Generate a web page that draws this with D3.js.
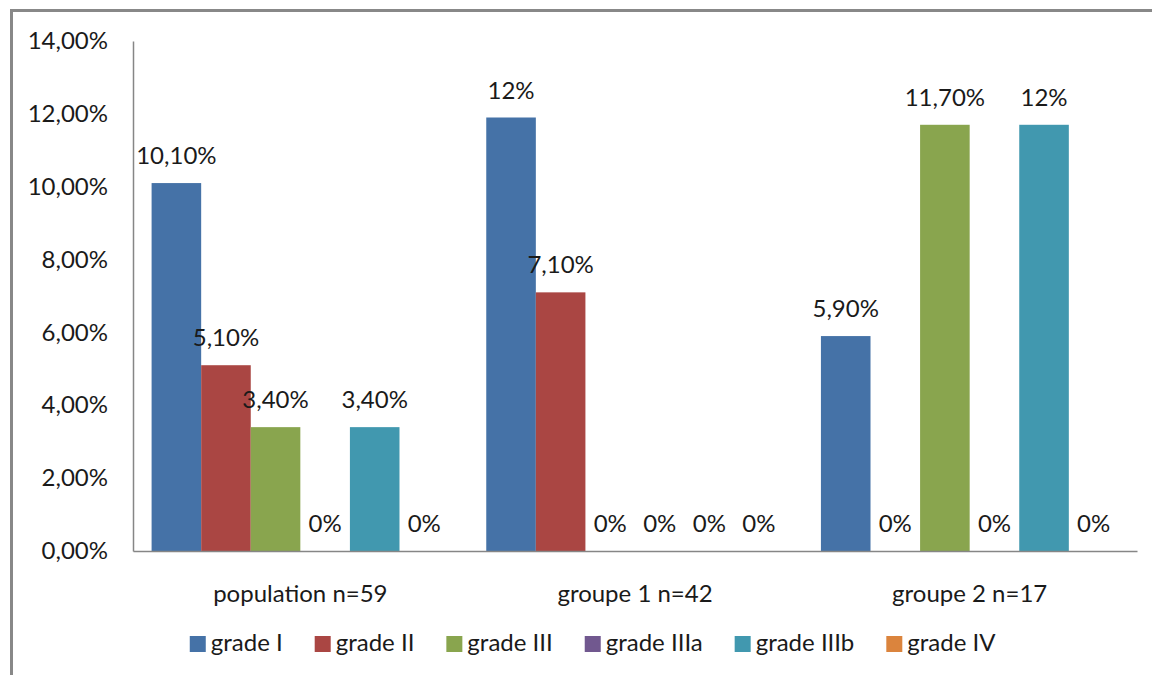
<!DOCTYPE html>
<html>
<head>
<meta charset="utf-8">
<script src="https://cdn.jsdelivr.net/npm/d3@7"></script>
<style>
  html, body { margin: 0; padding: 0; background: #fff; }
  svg { display: block; }
  text { font-family: Lato, "Open Sans", sans-serif; fill: #1a1a1a; }
</style>
</head>
<body>
<div id="chart"></div>
<script>
'use strict';

// catégories et séries (valeurs en %)
const categories = ["population n=59", "groupe 1 n=42", "groupe 2 n=17"];
const seriesNames = ["grade I", "grade II", "grade III", "grade IIIa", "grade IIIb", "grade IV"];
const seriesColors = ["#4572A7", "#AA4643", "#89A54E", "#71588F", "#4198AF", "#DB843D"];

const gradeI    = [10.1, 11.9, 5.9];
const gradeII   = [5.1, 7.1, 0];
const gradeIII  = [3.4, 0, 11.7];
const gradeIIIa = [0, 0, 0];
const gradeIIIb = [3.4, 0, 11.7];
const gradeIV   = [0, 0, 0];

// étiquettes de données telles qu'affichées
const labelsI    = ["10,10%", "12%", "5,90%"];
const labelsII   = ["5,10%", "7,10%", "0%"];
const labelsIII  = ["3,40%", "0%", "11,70%"];
const labelsIIIa = ["0%", "0%", "0%"];
const labelsIIIb = ["3,40%", "0%", "12%"];
const labelsIV   = ["0%", "0%", "0%"];

const yTicks = [0, 2, 4, 6, 8, 10, 12, 14];

const values = [gradeI, gradeII, gradeIII, gradeIIIa, gradeIIIb, gradeIV];
const labels = [labelsI, labelsII, labelsIII, labelsIIIa, labelsIIIb, labelsIV];

const W = 1152, H = 675;
const plot = {left: 133, right: 1137, top: 41, bottom: 551};
const fontSize = 24;

const svg = d3.select("#chart").append("svg")
    .attr("width", W)
    .attr("height", H);

// cadre extérieur du graphique
svg.append("rect")
    .attr("x", 11.5).attr("y", 10.5)
    .attr("width", W + 20).attr("height", H + 20)
    .attr("fill", "none")
    .attr("stroke", "#888")
    .attr("stroke-width", 3);

const x0 = d3.scaleBand()
    .domain(categories)
    .range([plot.left, plot.right])
    .paddingInner(0)
    .paddingOuter(0);

// gap width ~75% d'une barre
const x1 = d3.scaleBand()
    .domain(seriesNames)
    .range([0, x0.bandwidth()])
    .paddingOuter(0.375)
    .paddingInner(0);

const y = d3.scaleLinear()
    .domain([0, 14])
    .range([plot.bottom, plot.top]);

// barres
const groups = svg.append("g").selectAll("g")
    .data(seriesNames)
    .join("g")
    .attr("fill", (d, i) => seriesColors[i]);

groups.selectAll("rect")
    .data((s, i) => categories.map((c, j) => ({cat: c, s: s, v: values[i][j], label: labels[i][j]})))
    .join("rect")
    .attr("x", d => x0(d.cat) + x1(d.s))
    .attr("width", x1.bandwidth())
    .attr("y", d => y(d.v))
    .attr("height", d => y(0) - y(d.v));

// étiquettes de données
groups.selectAll("text")
    .data((s, i) => categories.map((c, j) => ({cat: c, s: s, v: values[i][j], label: labels[i][j]})))
    .join("text")
    .attr("x", d => x0(d.cat) + x1(d.s) + x1.bandwidth() / 2)
    .attr("y", d => y(d.v) - 19)
    .attr("text-anchor", "middle")
    .style("font-size", fontSize + "px")
    .style("fill", "#1a1a1a")
    .text(d => d.label);

// axe Y
const yAxis = svg.append("g")
    .attr("transform", `translate(${plot.left},0)`)
    .call(d3.axisLeft(y)
        .tickValues(yTicks)
        .tickSize(0)
        .tickPadding(25)
        .tickFormat(d => d3.format(".2f")(d).replace(".", ",") + "%"));
yAxis.select(".domain").attr("stroke", "#868686").attr("stroke-width", 1.5);
yAxis.selectAll("text")
    .style("font-size", fontSize + "px")
    .style("font-family", "Lato, sans-serif")
    .attr("fill", "#1a1a1a");

// axe X
const xAxis = svg.append("g")
    .attr("transform", `translate(0,${plot.bottom})`)
    .call(d3.axisBottom(x0).tickSize(0).tickPadding(34));
xAxis.select(".domain").attr("stroke", "#868686").attr("stroke-width", 1.5);
xAxis.selectAll("text")
    .style("font-size", fontSize + "px")
    .style("font-family", "Lato, sans-serif")
    .attr("fill", "#1a1a1a");

// légende
const legend = svg.append("g");
const items = legend.selectAll("g")
    .data(seriesNames)
    .join("g");
items.append("rect")
    .attr("width", 16).attr("height", 16)
    .attr("y", -16)
    .attr("fill", (d, i) => seriesColors[i]);
items.append("text")
    .attr("x", 21)
    .attr("y", -1)
    .style("font-size", fontSize + "px")
    .text(d => d);

let cursor = 0;
const gap = 32;
items.each(function() {
    const w = this.getBBox().width;
    d3.select(this).attr("transform", `translate(${cursor},0)`);
    cursor += w + gap;
});
const totalW = cursor - gap;
const legendX = (plot.left + plot.right) / 2 - totalW / 2 - 42;
legend.attr("transform", `translate(${legendX},652)`);
</script>
</body>
</html>
